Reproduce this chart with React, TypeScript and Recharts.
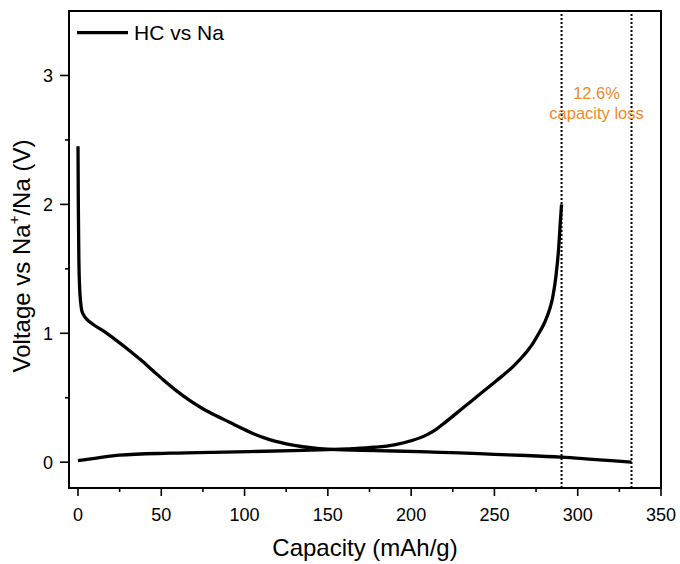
import React from 'react';
import { LineChart, Line, XAxis, YAxis, ReferenceLine, ReferenceArea, ReferenceDot } from 'recharts';

// discharge (sodiation) branch
const dischargeCap = [0, 0.2, 0.5, 1, 1.6, 2.2, 3.5, 5.2, 9, 15, 23, 31, 38, 45, 52, 59, 67, 75, 83, 91, 98, 105, 115, 125, 135, 145, 155, 170, 190, 210, 229, 250, 269, 290, 309, 320, 332.3];
const dischargeV = [2.45, 2.0, 1.6, 1.35, 1.24, 1.18, 1.14, 1.11, 1.07, 1.02, 0.945, 0.865, 0.79, 0.71, 0.63, 0.555, 0.48, 0.415, 0.36, 0.31, 0.265, 0.222, 0.175, 0.143, 0.12, 0.105, 0.097, 0.093, 0.087, 0.08, 0.072, 0.061, 0.052, 0.039, 0.022, 0.012, 0.0];

// charge (desodiation) branch
const chargeCap = [0, 10, 25, 55, 95, 135, 150, 165, 178, 190, 201, 209, 215, 221, 231, 241, 251, 261, 268, 273, 276, 280, 283, 285, 287, 288.5, 289.5, 290.3];
const chargeV = [0.013, 0.03, 0.055, 0.07, 0.08, 0.092, 0.098, 0.105, 0.116, 0.135, 0.17, 0.21, 0.255, 0.315, 0.42, 0.525, 0.63, 0.74, 0.835, 0.92, 0.985, 1.08, 1.18, 1.28, 1.45, 1.65, 1.85, 2.0];

const xMajor = [0, 50, 100, 150, 200, 250, 300, 350];
const xMinor = [25, 75, 125, 175, 225, 275, 325];
const yMajor = [0, 1, 2, 3];
const yMinor = [0.5, 1.5, 2.5];

const chargeEnd = 290.3;
const dischargeEnd = 332.3;
const seriesName = 'HC vs Na';
const lossLabel = ['12.6%', 'capacity loss'];

const discharge = dischargeCap.map((c, i) => ({ cap: c, v: dischargeV[i] }));
const charge = chargeCap.map((c, i) => ({ cap: c, v: chargeV[i] }));

const FONT = '"Liberation Sans", Arial, sans-serif';
const ORANGE = '#F0892A';

const XTick = (props: any) => {
  const { x, y, payload } = props;
  const major = xMajor.includes(payload.value);
  return (
    <g>
      <line x1={x} x2={x} y1={y} y2={y + (major ? 8 : 4)} stroke="#000" strokeWidth={1.6} />
      {major && (
        <text x={x} y={y + 33} textAnchor="middle" fontSize={18} fill="#000" fontFamily={FONT}>
          {payload.value}
        </text>
      )}
    </g>
  );
};

const YTick = (props: any) => {
  const { x, y, payload } = props;
  const major = yMajor.includes(payload.value);
  return (
    <g>
      <line x1={x} x2={x - (major ? 9 : 4)} y1={y} y2={y} stroke="#000" strokeWidth={1.6} />
      {major && (
        <text x={x - 16} y={y + 6.5} textAnchor="end" fontSize={18} fill="#000" fontFamily={FONT}>
          {payload.value}
        </text>
      )}
    </g>
  );
};

const YTitle = () => (
  <text
    x={24}
    y={256}
    transform="rotate(-90 24 256)"
    textAnchor="middle"
    dominantBaseline="middle"
    fontSize={24}
    fill="#000"
    fontFamily={FONT}
  >
    Voltage vs Na
    <tspan baselineShift="super" fontSize={15}>+</tspan>
    /Na (V)
  </text>
);

const XTitle = (props: any) => {
  const { viewBox } = props;
  const cx = viewBox.x + viewBox.width / 2;
  return (
    <text x={cx} y={556} textAnchor="middle" fontSize={24} fill="#000" fontFamily={FONT}>
      Capacity (mAh/g)
    </text>
  );
};

const LossNote = (props: any) => {
  const { viewBox } = props;
  const cx = viewBox.x + viewBox.width / 2;
  const cy = viewBox.y + viewBox.height / 2;
  return (
    <g fontFamily={FONT} fontSize={16.5} fill={ORANGE} textAnchor="middle">
      <text x={cx} y={cy - 4}>{lossLabel[0]}</text>
      <text x={cx} y={cy + 16}>{lossLabel[1]}</text>
    </g>
  );
};

export default function App() {
  return (
    <div style={{ position: 'absolute', left: 0, top: 0, width: 680, height: 564, background: '#fff' }}>
      <LineChart width={680} height={564} margin={{ top: 11, right: 19, bottom: 0, left: 9 }}>
        <XAxis
          type="number"
          dataKey="cap"
          domain={[-5.4, 350]}
          allowDataOverflow
          ticks={[...xMajor, ...xMinor].sort((a, b) => a - b)}
          interval={0}
          tickSize={0}
          tickMargin={0}
          tick={<XTick />}
          height={76}
          axisLine={{ stroke: '#000', strokeWidth: 2 }}
          label={<XTitle />}
        />
        <YAxis
          type="number"
          domain={[-0.2, 3.5]}
          allowDataOverflow
          ticks={[...yMajor, ...yMinor].sort((a, b) => a - b)}
          interval={0}
          tickSize={0}
          tickMargin={0}
          tick={<YTick />}
          width={60}
          axisLine={{ stroke: '#000', strokeWidth: 2 }}
          label={<YTitle />}
        />
        <ReferenceArea x1={-5.4} x2={350} y1={-0.2} y2={3.5} fill="none" stroke="#000" strokeWidth={2} ifOverflow="visible" />
        <Line data={discharge} dataKey="v" type="monotone" stroke="#000" strokeWidth={3.3} dot={false} isAnimationActive={false} />
        <Line data={charge} dataKey="v" type="monotone" stroke="#000" strokeWidth={3.3} dot={false} isAnimationActive={false} />
        <ReferenceLine x={chargeEnd} stroke="#000" strokeWidth={2} strokeDasharray="2 2" />
        <ReferenceLine x={dischargeEnd} stroke="#000" strokeWidth={2} strokeDasharray="2 2" />
        <ReferenceDot x={(chargeEnd + dischargeEnd) / 2} y={2.79} r={0} fill="none" stroke="none" label={<LossNote />} />
      </LineChart>
      <div style={{ position: 'absolute', left: 0, top: 0 }}>
        <svg width={260} height={60}>
          <line x1={77} x2={128} y1={32.7} y2={32.7} stroke="#000" strokeWidth={3.2} />
          <text x={134} y={40} fontSize={21} fill="#000" fontFamily={FONT}>
            {seriesName}
          </text>
        </svg>
      </div>
    </div>
  );
}
